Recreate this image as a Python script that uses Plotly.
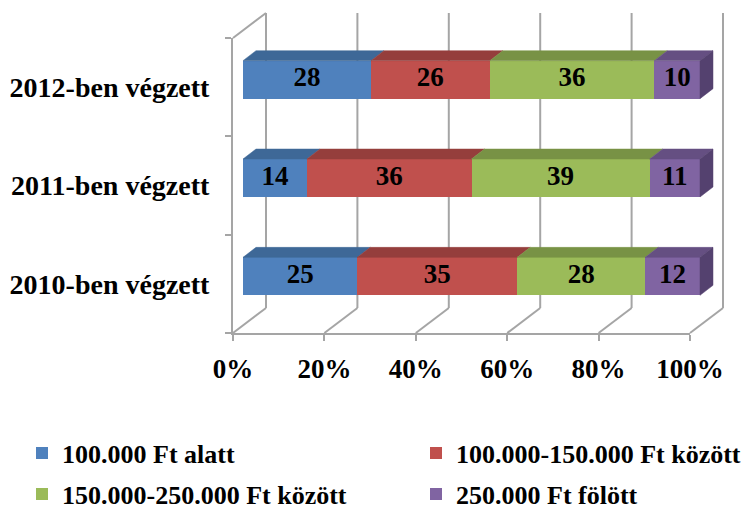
import plotly.graph_objects as go

# ---------------- data ----------------
categories = ["2010-ben végzett", "2011-ben végzett", "2012-ben végzett"]
series_names = ["100.000 Ft alatt", "100.000-150.000 Ft között",
                "150.000-250.000 Ft között", "250.000 Ft fölött"]
under_100k = [25, 14, 28]
between_100_150k = [35, 36, 26]
between_150_250k = [28, 39, 36]
over_250k = [12, 11, 10]
x_tick_values = [0, 20, 40, 60, 80, 100]
x_tick_labels = ["0%", "20%", "40%", "60%", "80%", "100%"]

series_values = [under_100k, between_100_150k, between_150_250k, over_250k]

# ---------------- styles ----------------
face_colors = ["#4F81BD", "#C0504D", "#9BBB59", "#8064A2"]
top_colors = ["#3E6897", "#953E3C", "#789245", "#654F82"]
side_color = "#54416F"
grid_color = "#A5A5A5"
FONT = "Liberation Serif"

# ---------------- geometry (pixels) ----------------
W, H = 751, 511
FX0, FX1 = 233, 690          # front floor edge: 0% .. 100%
FY_BOT, FY_TOP = 333, 38     # front category axis extent
DEPTH = (33, -25)            # wall depth offset
BAR_SHIFT = (10, -7.5)       # bar front face offset
BAR_DEPTH = (13, -10)        # bar depth
BAR_W = 0.386
PPX = (FX1 - FX0) / 100.0
PPC = (FY_BOT - FY_TOP) / 3.0
WALL_TOP = FY_TOP + DEPTH[1]
EXTRA = 25


def px(x):
    return x / W


def py(y):
    return 1 - y / H


fig = go.Figure()

# ---- invisible anchor trace so the front axes are drawn ----
fig.add_trace(go.Scatter(
    x=[0] * len(categories), y=categories, mode="markers",
    marker=dict(opacity=0), showlegend=False, hoverinfo="skip",
    xaxis="x", yaxis="y",
))

# ---- bar front faces ----
legend_names = ["legend", "legend2", "legend3", "legend4"]
for k, (name, vals) in enumerate(zip(series_names, series_values)):
    fig.add_trace(go.Bar(
        orientation="h", x=vals, y=[0, 1, 2], name=name,
        xaxis="x2", yaxis="y2", width=BAR_W,
        marker=dict(color=face_colors[k], line=dict(width=0)),
        textposition="none", legend=legend_names[k], hoverinfo="x+name",
    ))

# ---- 3D top faces and right side ----
ddx = BAR_DEPTH[0] / PPX
ddy = -BAR_DEPTH[1] / PPC
for i in range(len(categories)):
    cum = 0.0
    yt = i + BAR_W / 2
    yb = i - BAR_W / 2
    for k, vals in enumerate(series_values):
        x0, x1 = cum, cum + vals[i]
        fig.add_trace(go.Scatter(
            x=[x0, x1, x1 + ddx, x0 + ddx, x0],
            y=[yt, yt, yt + ddy, yt + ddy, yt],
            xaxis="x2", yaxis="y2", mode="lines", fill="toself",
            fillcolor=top_colors[k], line=dict(color=top_colors[k], width=0.5),
            showlegend=False, hoverinfo="skip",
        ))
        cum = x1
    fig.add_trace(go.Scatter(
        x=[cum, cum + ddx, cum + ddx, cum, cum],
        y=[yb, yb + ddy, yt + ddy, yt, yb],
        xaxis="x2", yaxis="y2", mode="lines", fill="toself",
        fillcolor=side_color, line=dict(color=side_color, width=0.5),
        showlegend=False, hoverinfo="skip",
    ))

# ---- value labels ----
lx, ly, lt = [], [], []
for i in range(len(categories)):
    cum = 0.0
    for vals in series_values:
        lx.append(cum + vals[i] / 2)
        ly.append(i)
        lt.append(str(vals[i]))
        cum += vals[i]
fig.add_trace(go.Scatter(
    x=lx, y=ly, text=lt, mode="text", xaxis="x2", yaxis="y2",
    textfont=dict(family=FONT, size=27, color="black", weight="bold"),
    showlegend=False, hoverinfo="skip", cliponaxis=False,
))

# ---- walls / gridlines ----
shapes = []
line_style = dict(color=grid_color, width=2)
for v in x_tick_values:
    fx = FX0 + v * PPX
    bx = fx + DEPTH[0]
    by = FY_BOT + DEPTH[1]
    shapes.append(dict(type="line", xref="paper", yref="paper",
                       x0=px(fx), y0=py(FY_BOT), x1=px(bx), y1=py(by),
                       line=line_style, layer="below"))
    shapes.append(dict(type="line", xref="paper", yref="paper",
                       x0=px(bx), y0=py(by), x1=px(bx), y1=py(WALL_TOP),
                       line=line_style, layer="below"))
shapes.append(dict(type="line", xref="paper", yref="paper",
                   x0=px(FX0), y0=py(FY_TOP), x1=px(FX0 + DEPTH[0]), y1=py(WALL_TOP),
                   line=line_style, layer="below"))

tick_font = dict(family=FONT, size=27, color="black", weight="bold")
cat_font = dict(family=FONT, size=28, color="black", weight="bold")
legend_font = dict(family=FONT, size=26, color="black", weight="bold")

bx0 = FX0 + BAR_SHIFT[0]
by0 = FY_BOT + BAR_SHIFT[1]

layout = dict(
    width=W, height=H,
    margin=dict(l=0, r=0, t=0, b=0, autoexpand=False),
    paper_bgcolor="white", plot_bgcolor="rgba(0,0,0,0)",
    barmode="stack", bargap=0,
    shapes=shapes,
    xaxis=dict(domain=[px(FX0), px(FX1)], range=[0, 100], anchor="y",
               tickmode="array", tickvals=x_tick_values, ticktext=x_tick_labels,
               showline=True, linecolor=grid_color, linewidth=2,
               ticks="outside", ticklen=6, tickwidth=2, tickcolor=grid_color,
               showgrid=False, zeroline=False, tickfont=tick_font,
               ticklabelstandoff=5, fixedrange=True, automargin=False),
    yaxis=dict(domain=[py(FY_BOT), py(FY_TOP)], type="category",
               categoryorder="array", categoryarray=categories,
               range=[-0.5, 2.5], anchor="x",
               showline=True, linecolor=grid_color, linewidth=2,
               ticks="outside", ticklen=6, tickwidth=2, tickcolor=grid_color,
               tickson="boundaries", showgrid=False, zeroline=False,
               tickfont=cat_font, ticklabelstandoff=16, fixedrange=True,
               automargin=False),
    xaxis2=dict(domain=[px(bx0), px(FX1 + BAR_SHIFT[0] + EXTRA)],
                range=[0, 100 + EXTRA / PPX], anchor="y2", visible=False,
                fixedrange=True),
    yaxis2=dict(domain=[py(by0), py(WALL_TOP - 5)],
                range=[-0.5, -0.5 + (by0 - (WALL_TOP - 5)) / PPC], anchor="x2",
                visible=False, fixedrange=True),
    showlegend=True,
)

legend_pos = [(22, 453), (416, 453), (22, 494), (416, 494)]
for name, (lxp, lyp) in zip(legend_names, legend_pos):
    layout[name] = dict(x=px(lxp), y=py(lyp), xanchor="left", yanchor="middle",
                        orientation="h", font=legend_font,
                        bgcolor="rgba(0,0,0,0)", borderwidth=0)

fig.update_layout(**layout)
fig.write_html("out.html", config={"displayModeBar": False},
               post_script="document.body.style.margin='0';")
